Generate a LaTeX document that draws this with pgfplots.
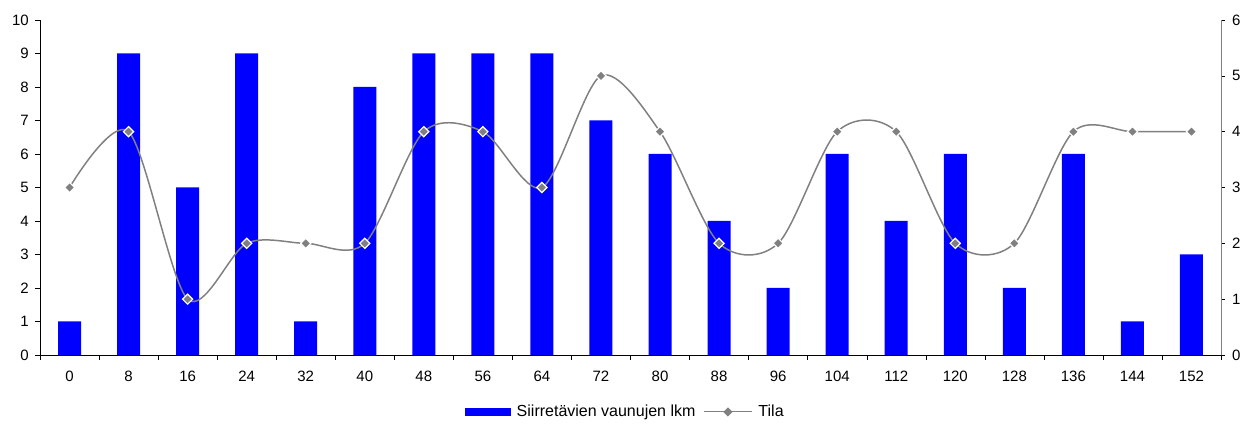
\documentclass[border=0pt]{standalone}
\usepackage{fontspec}
\setmainfont{Liberation Sans}
\usepackage{pgfplots}
\pgfplotsset{compat=1.18}
\definecolor{linegray}{RGB}{128,128,128}
\begin{document}
\fontsize{15bp}{17bp}\selectfont
\begin{tikzpicture}
\useasboundingbox (0,0) rectangle (1247bp,429bp);
\begin{axis}[
  at={(40bp,74bp)}, anchor=south west,
  scale only axis, width=1181bp, height=335bp,
  xmin=-0.5, xmax=19.5, ymin=0, ymax=10,
  axis x line*=bottom, axis y line*=left,
  xtick={0,...,19},
  xticklabels={0,8,16,24,32,40,48,56,64,72,80,88,96,104,112,120,128,136,144,152},
  minor xtick={-0.5,0.5,...,19.5},
  x tick style={draw=none},
  minor x tick style={draw=black, thin},
  minor tick length=5bp,
  ytick={0,...,10},
  y tick style={draw=black, thin},
  major tick length=5bp,
  tick align=outside,
  axis line style={black, thin},
  tick label style={font=\fontsize{15bp}{17bp}\selectfont},
  /pgf/number format/assume math mode=true,
  xticklabel style={yshift=-6bp},
  yticklabel style={xshift=-1bp},
  ybar, bar width=23bp,
]
\addplot[fill=blue, draw=none] coordinates {
(0,1) (1,9) (2,5) (3,9) (4,1) (5,8) (6,9) (7,9) (8,9) (9,7)
(10,6) (11,4) (12,2) (13,6) (14,4) (15,6) (16,2) (17,6) (18,1) (19,3)};
\end{axis}
\begin{axis}[
  at={(40bp,74bp)}, anchor=south west,
  scale only axis, width=1181bp, height=335bp,
  xmin=-0.5, xmax=19.5, ymin=0, ymax=6,
  axis x line=none, axis y line*=right,
  ytick={0,...,6},
  y tick style={draw=black, thin},
  major tick length=4bp,
  tick align=outside,
  axis line style={linegray, thin},
  tick label style={font=\fontsize{15bp}{17bp}\selectfont},
  /pgf/number format/assume math mode=true,
  yticklabel style={xshift=2bp},
  legend style={at={(0.5,-0.17)}, anchor=center, xshift=-5bp, draw=none, legend columns=-1,
    font=\fontsize{16bp}{18bp}\selectfont,
    /tikz/every odd column/.append style={column sep=4bp},
    /tikz/every even column/.append style={column sep=6bp}},
]
\addlegendimage{legend image code/.code={\fill[blue] (0bp,-3.5bp) rectangle (45bp,3.5bp);}}
\addlegendentry{Siirretävien vaunujen lkm}
\addplot[linegray, line width=1.5pt, smooth, tension=0.5, mark=square*,
  mark size=3.6bp, mark options={fill=linegray, draw=white, line width=1.2pt, rotate=45},
  legend image code/.code={\draw[linegray, line width=1pt] (0bp,0bp) -- (48bp,0bp);
    \fill[linegray] (24bp,0bp) +(-3.5bp,0) -- +(0,3.5bp) -- +(3.5bp,0) -- +(0,-3.5bp) -- cycle;}]
coordinates {
(0,3) (1,4) (2,1) (3,2) (4,2) (5,2) (6,4) (7,4) (8,3) (9,5)
(10,4) (11,2) (12,2) (13,4) (14,4) (15,2) (16,2) (17,4) (18,4) (19,4)};
\addlegendentry{Tila}
\end{axis}
\end{tikzpicture}
\end{document}
